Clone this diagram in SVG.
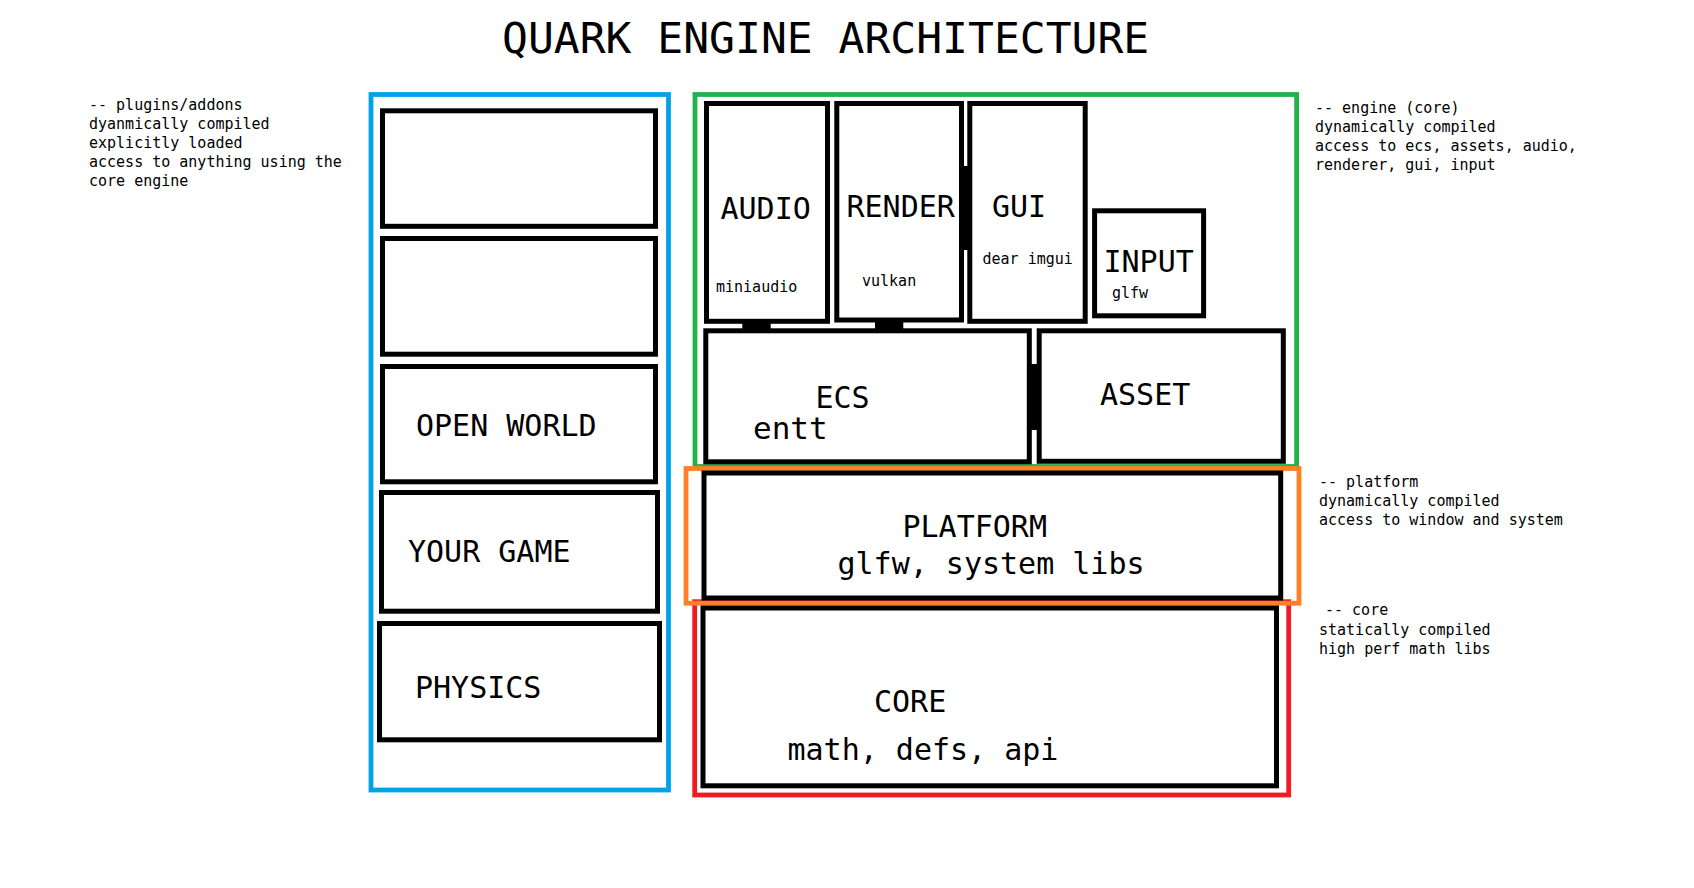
<svg xmlns="http://www.w3.org/2000/svg" width="1694" height="888" viewBox="0 0 1694 888">
<style>
.bg{fill:#fff}
.box{fill:none;stroke:#000;stroke-width:5}
.grp{fill:none;stroke-width:4.8}
.blue{stroke:#00A2E8}
.green{stroke:#22B14C}
.orange{stroke:#FF7F27}
.red{stroke:#ED1C24}
text{font-family:"DejaVu Sans Mono","Liberation Mono",monospace;fill:#000}
.big{font-size:30px}
.small{font-size:15px}
.note{font-size:15px}
.title{font-size:43px}
.bar{fill:#000}
</style>
<rect class="bg" x="0" y="0" width="1694" height="888"/>
<text class="title" x="502" y="52.5">QUARK ENGINE ARCHITECTURE</text>

<g id="notes">
<text class="note" x="89" y="110">-- plugins/addons</text>
<text class="note" x="89" y="129">dyanmically compiled</text>
<text class="note" x="89" y="148">explicitly loaded</text>
<text class="note" x="89" y="167">access to anything using the</text>
<text class="note" x="89" y="186">core engine</text>
<text class="note" x="1315" y="112.5">-- engine (core)</text>
<text class="note" x="1315" y="131.5">dynamically compiled</text>
<text class="note" x="1315" y="150.5">access to ecs, assets, audio,</text>
<text class="note" x="1315" y="169.5">renderer, gui, input</text>
<text class="note" x="1319" y="486.5">-- platform</text>
<text class="note" x="1319" y="505.5">dynamically compiled</text>
<text class="note" x="1319" y="524.5">access to window and system</text>
<text class="note" x="1325" y="615">-- core</text>
<text class="note" x="1319" y="634.5">statically compiled</text>
<text class="note" x="1319" y="653.5">high perf math libs</text>
</g>

<g id="plugins-group">
<rect class="grp blue" x="371" y="94.5" width="297.5" height="695.5"/>
</g>
<g id="engine-group">
<rect class="grp green" x="695" y="94.5" width="601.6" height="372"/>
</g>
<g id="core-group">
<rect class="grp red" x="694.7" y="601.7" width="594" height="193.3"/>
</g>
<g id="platform-group">
<rect class="grp orange" x="686" y="468.5" width="613" height="134.7"/>
</g>

<g id="plugin1"><rect class="box" x="382.5" y="110.8" width="273" height="115.5"/></g>
<g id="plugin2"><rect class="box" x="382.5" y="238.5" width="273" height="115.7"/></g>
<g id="open-world"><rect class="box" x="382.5" y="366.5" width="273" height="115.3"/>
<text class="big" x="416" y="436">OPEN WORLD</text></g>
<g id="your-game"><rect class="box" x="381.5" y="492.5" width="276" height="118.7"/>
<text class="big" x="408" y="561.7">YOUR GAME</text></g>
<g id="physics"><rect class="box" x="379.5" y="623.5" width="280" height="116.3"/>
<text class="big" x="415" y="698.3">PHYSICS</text></g>

<g id="audio"><rect class="box" x="706.5" y="103.5" width="121" height="217.8"/>
<text class="big" x="720.5" y="219.3">AUDIO</text>
<text class="small" x="716" y="292">miniaudio</text></g>
<g id="render"><rect class="box" x="836.8" y="103.5" width="124.7" height="216.5"/>
<text class="big" x="846.5" y="216.7">RENDER</text>
<text class="small" x="862" y="286">vulkan</text></g>
<g id="gui"><rect class="box" x="969.8" y="103.5" width="115.4" height="217.8"/>
<text class="big" x="992" y="217.3">GUI</text>
<text class="small" x="982.5" y="264">dear imgui</text></g>
<g id="input"><rect class="box" x="1094.6" y="210.8" width="109" height="105"/>
<text class="big" x="1103.5" y="271.7">INPUT</text>
<text class="small" x="1112" y="298.3">glfw</text></g>
<g id="ecs"><rect class="box" x="705.8" y="330.8" width="323.5" height="131"/>
<text class="big" x="815.5" y="408.3">ECS</text>
<text class="big" x="753" y="439.3" style="font-size:31px">entt</text></g>
<g id="asset"><rect class="box" x="1039.2" y="330.8" width="244.1" height="130.5"/>
<text class="big" x="1100" y="405">ASSET</text></g>
<g id="platform"><rect class="box" x="704" y="473" width="576.7" height="125"/>
<text class="big" x="902.5" y="536.7">PLATFORM</text>
<text class="big" x="837.5" y="574.3">glfw, system libs</text></g>
<g id="core"><rect class="box" x="703" y="608" width="573.5" height="177.8"/>
<text class="big" x="874" y="712.3">CORE</text>
<text class="big" x="787.5" y="760">math, defs, api</text></g>

<g id="connectors">
<rect class="bar" x="742.3" y="321" width="28.4" height="10"/>
<rect class="bar" x="875" y="320" width="28.3" height="11"/>
<rect class="bar" x="961.5" y="166" width="8.3" height="84"/>
<rect class="bar" x="1029.3" y="364" width="9.9" height="66"/>
</g>
</svg>
